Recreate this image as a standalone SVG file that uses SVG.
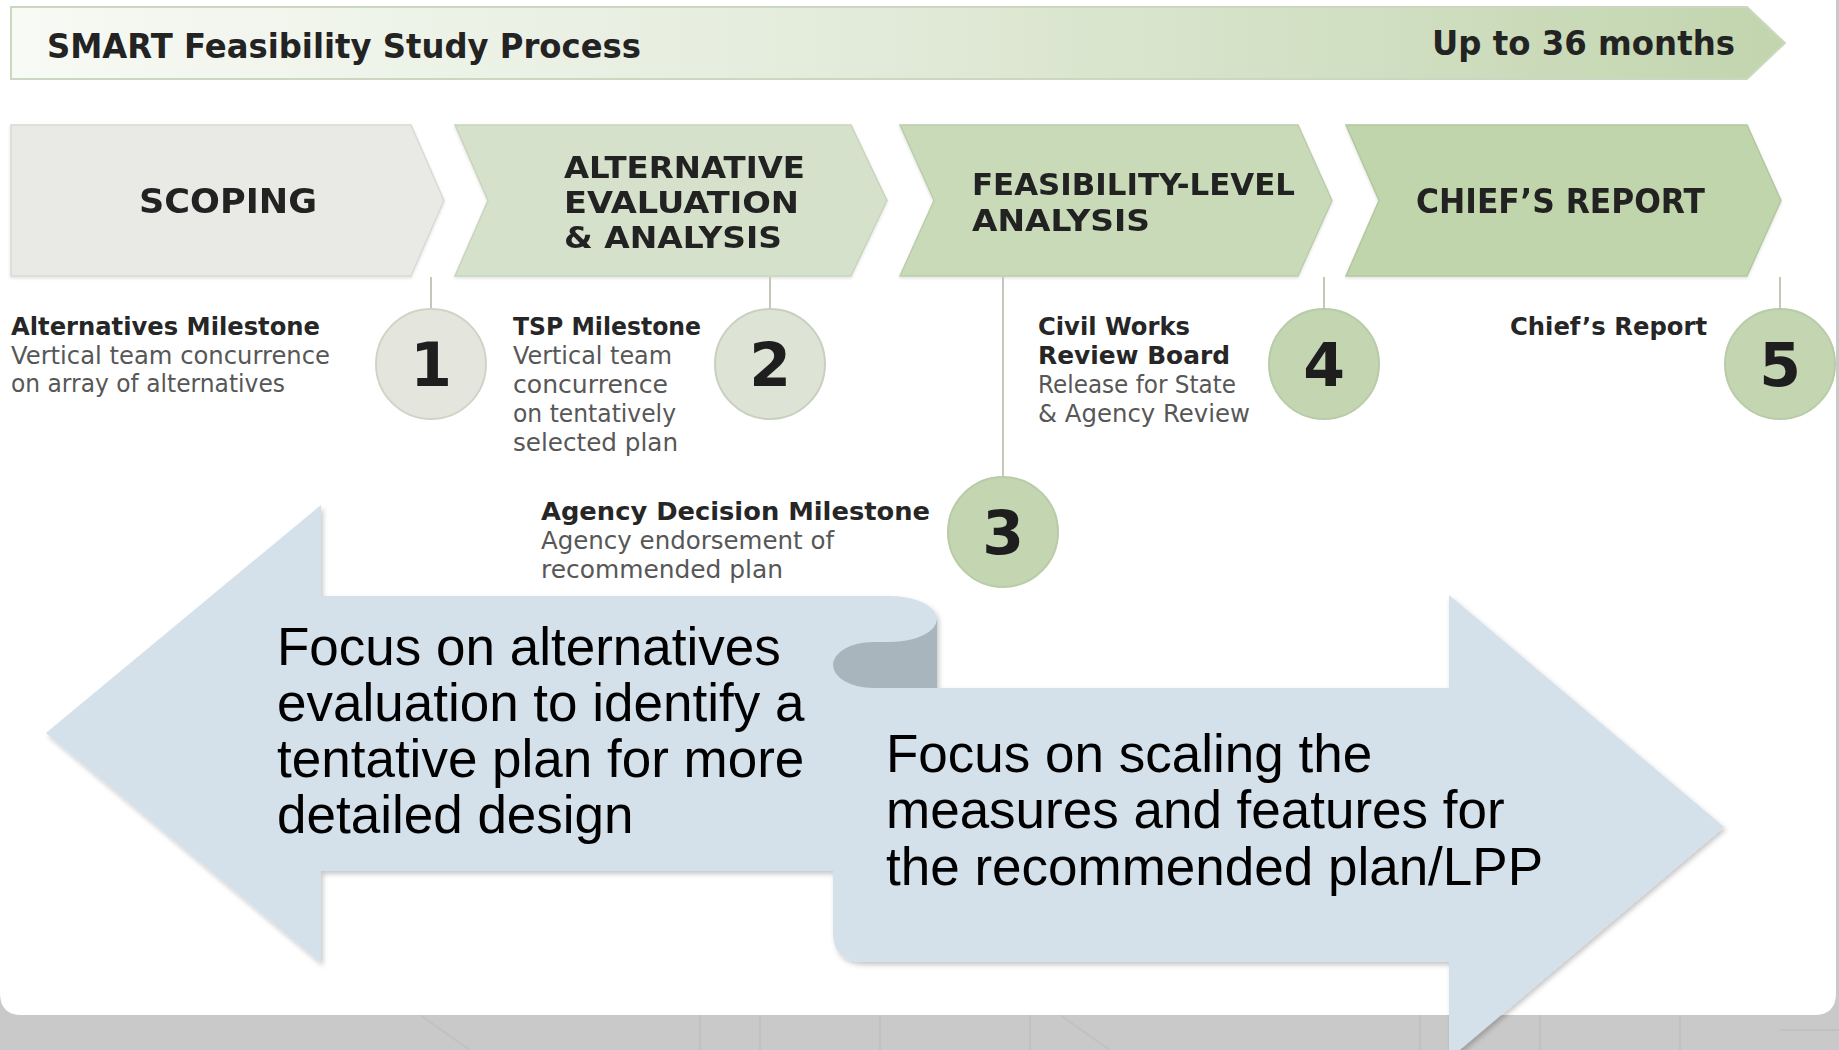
<svg xmlns="http://www.w3.org/2000/svg" width="1839" height="1050" viewBox="0 0 1839 1050">
<defs>
<linearGradient id="bannerGrad" x1="0" y1="0" x2="1" y2="0">
<stop offset="0" stop-color="#f8faf5"/>
<stop offset="0.45" stop-color="#e4ecdc"/>
<stop offset="1" stop-color="#c2d5ae"/>
</linearGradient>
<filter id="shadow" x="-5%" y="-5%" width="110%" height="115%">
<feDropShadow dx="2" dy="3" stdDeviation="2.5" flood-color="#000" flood-opacity="0.22"/>
</filter>
<filter id="softShadow" x="-10%" y="-10%" width="120%" height="130%">
<feDropShadow dx="0" dy="1.5" stdDeviation="1.5" flood-color="#000" flood-opacity="0.12"/>
</filter>
</defs>
<style>
.cg{font-family:"DejaVu Sans","Liberation Sans",sans-serif;}
.hd{font-weight:bold;fill:#232323;}
.ms{font-weight:bold;fill:#262626;font-size:25px;}
.ds{fill:#575757;font-size:24px;}
.ch{font-weight:bold;fill:#242424;font-size:33px;}
.chm{font-weight:bold;fill:#242424;font-size:30px;}
.num{font-weight:bold;fill:#1e1e1e;font-size:60px;text-anchor:middle;}
.big{font-family:"Liberation Sans",Arial,sans-serif;font-size:53px;fill:#000;}
.conn{stroke:#c2c9b9;stroke-width:2;fill:none;}
.chev{stroke-width:1.5;}
.circ{stroke-width:2;}
.tex{stroke:#bdbdbd;stroke-width:2;fill:none;opacity:0.6;}
</style>

<rect x="0" y="0" width="1839" height="1050" fill="#c9c9c9"/>
<g id="background-texture">
<path class="tex" d="M470 1050 L420 1015 M700 1050 V1015 M760 1050 V1015 M880 1050 V1015 M1030 1050 V1015 M1110 1050 L1060 1015 M1420 1050 V1015 M1540 1050 V1015 M1680 1050 V1015 M1780 1030 H1839"/>
</g>
<path d="M0 0 H1836 V993 Q1836 1015 1814 1015 H22 Q0 1015 0 993 Z" fill="#ffffff"/>

<g id="banner">
<path d="M11 7 H1747 L1785 43 L1747 79 H11 Z" fill="url(#bannerGrad)" stroke="#cbd8bf" stroke-width="2"/>
<text class="cg hd" x="47" y="58" font-size="34" textLength="594" lengthAdjust="spacingAndGlyphs">SMART Feasibility Study Process</text>
<text class="cg hd" x="1432" y="55" font-size="34" textLength="303" lengthAdjust="spacingAndGlyphs">Up to 36 months</text>
</g>

<g id="phase-scoping" filter="url(#softShadow)">
<path class="chev" d="M11 125 H411 L444 200.5 L411 276 H11 Z" fill="#e9e9e5" stroke="#d9dad3"/>
<text class="cg ch" x="139" y="213" textLength="178" lengthAdjust="spacingAndGlyphs">SCOPING</text>
</g>
<g id="phase-alternative" filter="url(#softShadow)">
<path class="chev" d="M455 125 H851 L887 200.5 L851 276 H455 L488 200.5 Z" fill="#d5e1cb" stroke="#c8d5bd"/>
<text class="cg chm" x="564" y="178" textLength="241" lengthAdjust="spacingAndGlyphs">ALTERNATIVE</text>
<text class="cg chm" x="564" y="213" textLength="235" lengthAdjust="spacingAndGlyphs">EVALUATION</text>
<text class="cg chm" x="564" y="248" textLength="218" lengthAdjust="spacingAndGlyphs">&amp; ANALYSIS</text>
</g>
<g id="phase-feasibility" filter="url(#softShadow)">
<path class="chev" d="M900 125 H1298 L1332 200.5 L1298 276 H900 L934 200.5 Z" fill="#c9dab9" stroke="#bccdab"/>
<text class="cg chm" x="972" y="195" textLength="323" lengthAdjust="spacingAndGlyphs">FEASIBILITY-LEVEL</text>
<text class="cg chm" x="972" y="231" textLength="178" lengthAdjust="spacingAndGlyphs">ANALYSIS</text>
</g>
<g id="phase-chiefs-report" filter="url(#softShadow)">
<path class="chev" d="M1346 125 H1747 L1781 200.5 L1747 276 H1346 L1379 200.5 Z" fill="#c0d5ac" stroke="#b3c89f"/>
<text class="cg ch" x="1416" y="213" textLength="289" lengthAdjust="spacingAndGlyphs">CHIEF’S REPORT</text>
</g>

<g id="connectors">
<line class="conn" x1="431" y1="277" x2="431" y2="309"/>
<line class="conn" x1="770" y1="277" x2="770" y2="309"/>
<line class="conn" x1="1003" y1="277" x2="1003" y2="477"/>
<line class="conn" x1="1324" y1="277" x2="1324" y2="309"/>
<line class="conn" x1="1780" y1="277" x2="1780" y2="309"/>
</g>

<g id="milestone-1">
<circle class="circ" cx="431" cy="364" r="55" fill="#e4e6de" stroke="#cfd5c6"/>
<text class="cg num" x="431" y="386">1</text>
<text class="cg ms" x="11" y="335" textLength="309" lengthAdjust="spacingAndGlyphs">Alternatives Milestone</text>
<text class="cg ds" x="11" y="364" textLength="319" lengthAdjust="spacingAndGlyphs">Vertical team concurrence</text>
<text class="cg ds" x="11" y="392" textLength="274" lengthAdjust="spacingAndGlyphs">on array of alternatives</text>
</g>

<g id="milestone-2">
<circle class="circ" cx="770" cy="364" r="55" fill="#dde3d5" stroke="#c9d0bf"/>
<text class="cg num" x="770" y="386">2</text>
<text class="cg ms" x="513" y="335" textLength="188" lengthAdjust="spacingAndGlyphs">TSP Milestone</text>
<text class="cg ds" x="513" y="364" textLength="159" lengthAdjust="spacingAndGlyphs">Vertical team</text>
<text class="cg ds" x="513" y="393" textLength="155" lengthAdjust="spacingAndGlyphs">concurrence</text>
<text class="cg ds" x="513" y="422" textLength="163" lengthAdjust="spacingAndGlyphs">on tentatively</text>
<text class="cg ds" x="513" y="451" textLength="165" lengthAdjust="spacingAndGlyphs">selected plan</text>
</g>

<g id="milestone-3">
<circle class="circ" cx="1003" cy="532" r="55" fill="#c3d5b1" stroke="#b9cba7"/>
<text class="cg num" x="1003" y="554">3</text>
<text class="cg ms" x="541" y="520" textLength="389" lengthAdjust="spacingAndGlyphs">Agency Decision Milestone</text>
<text class="cg ds" x="541" y="549" textLength="293" lengthAdjust="spacingAndGlyphs">Agency endorsement of</text>
<text class="cg ds" x="541" y="578" textLength="242" lengthAdjust="spacingAndGlyphs">recommended plan</text>
</g>

<g id="milestone-4">
<circle class="circ" cx="1324" cy="364" r="55" fill="#c3d5b1" stroke="#b9cba7"/>
<text class="cg num" x="1324" y="386">4</text>
<text class="cg ms" x="1038" y="335" textLength="152" lengthAdjust="spacingAndGlyphs">Civil Works</text>
<text class="cg ms" x="1038" y="364" textLength="192" lengthAdjust="spacingAndGlyphs">Review Board</text>
<text class="cg ds" x="1038" y="393" textLength="198" lengthAdjust="spacingAndGlyphs">Release for State</text>
<text class="cg ds" x="1038" y="422" textLength="212" lengthAdjust="spacingAndGlyphs">&amp; Agency Review</text>
</g>

<g id="milestone-5">
<circle class="circ" cx="1780" cy="364" r="55" fill="#c3d5b1" stroke="#b9cba7"/>
<text class="cg num" x="1780" y="386">5</text>
<text class="cg ms" x="1510" y="335" textLength="197" lengthAdjust="spacingAndGlyphs">Chief’s Report</text>
</g>

<g id="focus-arrows" filter="url(#shadow)">
<path id="left-arrow" d="M46 733 L321 505 L321 596 L890 596 A47 23 0 0 1 937 619 L937 688 L833 688 L833 871 L321 871 L321 963 Z" fill="#d4e0ea"/>
<path id="curl" d="M937 619 L937 688 L873 688 A40 23 0 0 1 873 642 L890 642 A47 23 0 0 0 937 619 Z" fill="#a9b5bd"/>
<path id="right-arrow" d="M833 688 L1449 688 L1449 595 L1724 827 L1449 1059 L1449 962 L863 962 Q833 962 833 932 Z" fill="#d4e0ea"/>
</g>
<g id="focus-left-text">
<text class="big" x="277" y="665">Focus on alternatives</text>
<text class="big" x="277" y="721">evaluation to identify a</text>
<text class="big" x="277" y="777">tentative plan for more</text>
<text class="big" x="277" y="833">detailed design</text>
</g>
<g id="focus-right-text">
<text class="big" x="886" y="772">Focus on scaling the</text>
<text class="big" x="886" y="828">measures and features for</text>
<text class="big" x="886" y="885">the recommended plan/LPP</text>
</g>
</svg>
